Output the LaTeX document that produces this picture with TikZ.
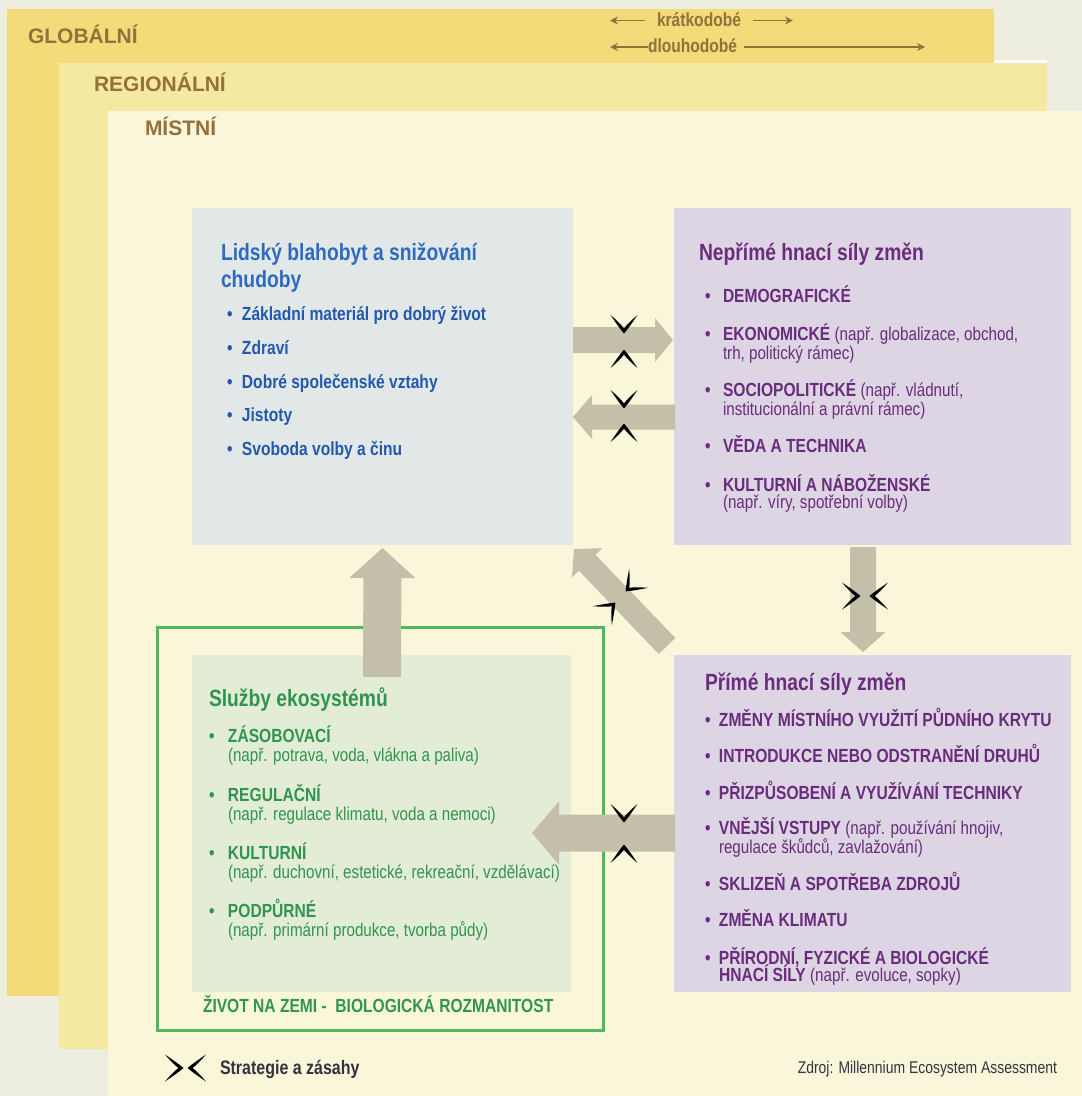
\documentclass[tikz,border=0pt]{standalone}
\usepackage{fontspec}
\setmainfont{Liberation Sans}
\newfontfamily\cf[FakeStretch=0.82]{Liberation Sans}
\usetikzlibrary{calc,arrows.meta}
\definecolor{bgc}{HTML}{EDEDE0}
\definecolor{globc}{HTML}{F2DB78}
\definecolor{regc}{HTML}{F5E8A1}
\definecolor{locc}{HTML}{FAF6DA}
\definecolor{blueboxc}{HTML}{E1E8E7}
\definecolor{purpboxc}{HTML}{DDD5E3}
\definecolor{greenboxc}{HTML}{E3ECD4}
\definecolor{framec}{HTML}{4DB85C}
\definecolor{arrowc}{HTML}{C3BFA8}
\definecolor{brownc}{HTML}{94703A}
\definecolor{bluet}{HTML}{2E6AC0}
\definecolor{bluei}{HTML}{2458AC}
\definecolor{purpc}{HTML}{6A2C7C}
\definecolor{greent}{HTML}{2F9550}
\definecolor{darkc}{HTML}{333340}
\newcommand{\bulx}[1]{\makebox[#1pt][l]{\textbullet}}
\newcommand{\regtxt}[1]{{\mdseries\fontsize{18.5}{21}\selectfont #1}}
% fat arrow: #1 from, #2 to, #3 shaft half width, #4 head half width, #5 head length
\newcommand{\fatarrow}[5]{%
  \coordinate (fatH) at ($(#2)!#5!(#1)$);
  \fill[arrowc] ($(#1)!#3!90:(#2)$) -- ($(fatH)!#3!90:(#2)$) -- ($(fatH)!#4!90:(#2)$) -- (#2)
     -- ($(fatH)!#4!-90:(#2)$) -- ($(fatH)!#3!-90:(#2)$) -- ($(#1)!#3!-90:(#2)$) -- cycle;}
\begin{document}
\begin{tikzpicture}[x=1pt,y=-1pt,
  boxn/.style={inner sep=0, outer sep=0},
  tx/.style={anchor=base west, inner sep=0, outer sep=0},
  layer/.style={tx, text=brownc, font=\bfseries\fontsize{21}{25}\selectfont},
  ttl/.style={tx, font=\cf\bfseries\fontsize{23.5}{27}\selectfont},
  itm/.style={tx, font=\cf\bfseries\fontsize{19}{22}\selectfont},
  sub/.style={tx, font=\cf\fontsize{18.5}{21}\selectfont},
  toparr/.style={draw=brownc, line width=1.8pt, -{Stealth[length=8pt,width=8pt]}},
  strat/.pic={\fill[black] (0.5,0) .. controls (-4,4) and (-10,8) .. (-18,13.5)
      .. controls (-12,6.5) and (-7.5,2) .. (-4.5,0)
      .. controls (-7.5,-2) and (-12,-6.5) .. (-18,-13.5)
      .. controls (-10,-8) and (-4,-4) .. (0.5,0) -- cycle;}
]
\useasboundingbox (0,0) rectangle (1082,1096);
% layers
\fill[bgc] (0,0) rectangle (1082,1096);
\fill[globc] (7,9) rectangle (994,996);
\fill[white] (994,60) rectangle (1047,63);
\fill[regc] (59,63) rectangle (1047,1049);
\fill[locc] (108,111) rectangle (1082,1096);
\node[layer] (lglob) at (28,43) {GLOBÁLNÍ};
\node[layer] (lreg) at (94,91) {REGIONÁLNÍ};
\node[layer] (lloc) at (145,135) {MÍSTNÍ};
% time scale
\node[tx, text=brownc, font=\cf\bfseries\fontsize{19}{22}\selectfont] (kratko) at (657,26.5) {krátkodobé};
\node[tx, text=brownc, font=\cf\bfseries\fontsize{19}{22}\selectfont] (dlouho) at (648,52) {dlouhodobé};
\coordinate (k1a) at ($(kratko.base west)+(-12,-6)$);
\coordinate (k1b) at ($(kratko.base west)+(-47,-6)$);
\coordinate (k2a) at ($(kratko.base east)+(12,-6)$);
\coordinate (k2b) at ($(kratko.base east)+(52,-6)$);
\coordinate (d1a) at ($(dlouho.base west)+(0,-5)$);
\coordinate (d1b) at ($(dlouho.base west)+(-38,-5)$);
\coordinate (d2a) at ($(dlouho.base east)+(7,-5)$);
\coordinate (d2b) at ($(dlouho.base east)+(188,-5)$);
\draw[toparr] (k1a) -- (k1b);
\draw[toparr] (k2a) -- (k2b);
\draw[toparr] (d1a) -- (d1b);
\draw[toparr] (d2a) -- (d2b);
% boxes
\node[boxn, fill=blueboxc, minimum width=381, minimum height=337] (wb) at (382.5,376.5) {};
\node[boxn, fill=purpboxc, minimum width=397, minimum height=337] (ind) at (872.5,376.5) {};
\node[boxn, fill=purpboxc, minimum width=397, minimum height=337] (dir) at (872.5,823.5) {};
\node[boxn, draw=framec, line width=3pt, minimum width=446, minimum height=403] (frame) at (380,828.5) {};
\node[boxn, fill=greenboxc, minimum width=379, minimum height=337] (eco) at (381.5,823.5) {};
% arrows
\coordinate (a1s) at ($(wb.east)+(0,-36.5)$);
\coordinate (a1e) at ($(ind.west)+(-1,-36.5)$);
\coordinate (a2s) at ($(ind.west)+(1,40.5)$);
\coordinate (a2e) at ($(wb.east)+(0,40.5)$);
\coordinate (a3s) at ($(eco.north)+(0.5,22)$);
\coordinate (a3e) at ($(wb.south)+(0,3)$);
\coordinate (a4s) at ($(dir.north west)+(-7,-9)$);
\coordinate (a4e) at ($(wb.south east)+(1,4)$);
\coordinate (a5s) at ($(ind.south)+(-9.5,2)$);
\coordinate (a5e) at ($(dir.north)+(-9.5,-3)$);
\coordinate (a6s) at ($(dir.west)+(1,9.5)$);
\coordinate (a6e) at ($(eco.east)+(-39,9.5)$);
\fatarrow{a1s}{a1e}{13pt}{22pt}{18pt}
\fatarrow{a2s}{a2e}{12.5pt}{22pt}{19pt}
\fatarrow{a3s}{a3e}{19pt}{33pt}{30pt}
\fatarrow{a4s}{a4e}{11.5pt}{21pt}{19pt}
\fatarrow{a5s}{a5e}{13pt}{22.5pt}{20pt}
\fatarrow{a6s}{a6e}{18.5pt}{31.5pt}{27pt}
% strategy markers
\pic[rotate=-90] at (624,333) {strat};
\pic[rotate=90] at (624,350) {strat};
\pic[rotate=-90] at (624,408) {strat};
\pic[rotate=90] at (624,424) {strat};
\pic[rotate=-90] at (624,822) {strat};
\pic[rotate=90] at (624,845) {strat};
\pic at (860,596) {strat};
\pic[rotate=180] at (870,596) {strat};
\pic[rotate=225] at (626,591) {strat};
\pic[rotate=45] at (615,603) {strat};
% blue box text
\node[ttl, text=bluet] (wbt1) at (221,260) {Lidský blahobyt a snižování};
\node[ttl, text=bluet] (wbt2) at (221,287) {chudoby};
\node[itm, text=bluei] (wb1) at (227,320.5) {\bulx{15}Základní materiál pro dobrý život};
\node[itm, text=bluei] (wb2) at (227,354) {\bulx{15}Zdraví};
\node[itm, text=bluei] (wb3) at (227,388.5) {\bulx{15}Dobré společenské vztahy};
\node[itm, text=bluei] (wb4) at (227,421.5) {\bulx{15}Jistoty};
\node[itm, text=bluei] (wb5) at (227,455) {\bulx{15}Svoboda volby a činu};
% indirect drivers
\node[ttl, text=purpc] (indt) at (699,260) {Nepřímé hnací síly změn};
\node[itm, text=purpc] (ind1) at (705,302.5) {\bulx{18}DEMOGRAFICKÉ};
\node[itm, text=purpc] (ind2) at (705,340) {\bulx{18}EKONOMICKÉ \regtxt{(např. globalizace, obchod,}};
\node[sub, text=purpc] (ind2b) at (723,359.5) {trh, politický rámec)};
\node[itm, text=purpc] (ind3) at (705,396) {\bulx{18}SOCIOPOLITICKÉ \regtxt{(např. vládnutí,}};
\node[sub, text=purpc] (ind3b) at (723,415) {institucionální a právní rámec)};
\node[itm, text=purpc] (ind4) at (705,452) {\bulx{18}VĚDA A TECHNIKA};
\node[itm, text=purpc] (ind5) at (705,491.5) {\bulx{18}KULTURNÍ A NÁBOŽENSKÉ};
\node[sub, text=purpc] (ind5b) at (723,508.5) {(např. víry, spotřební volby)};
% direct drivers
\node[ttl, text=purpc] (dirt) at (705,690) {Přímé hnací síly změn};
\node[itm, text=purpc] (dir1) at (705,726) {\bulx{14}ZMĚNY MÍSTNÍHO VYUŽITÍ PŮDNÍHO KRYTU};
\node[itm, text=purpc] (dir2) at (705,762.5) {\bulx{14}INTRODUKCE NEBO ODSTRANĚNÍ DRUHŮ};
\node[itm, text=purpc] (dir3) at (705,799) {\bulx{14}PŘIZPŮSOBENÍ A VYUŽÍVÁNÍ TECHNIKY};
\node[itm, text=purpc] (dir4) at (705,834) {\bulx{14}VNĚJŠÍ VSTUPY \regtxt{(např. používání hnojiv,}};
\node[sub, text=purpc] (dir4b) at (719,853) {regulace škůdců, zavlažování)};
\node[itm, text=purpc] (dir5) at (705,890) {\bulx{14}SKLIZEŇ A SPOTŘEBA ZDROJŮ};
\node[itm, text=purpc] (dir6) at (705,926.5) {\bulx{14}ZMĚNA KLIMATU};
\node[itm, text=purpc] (dir7) at (705,964) {\bulx{14}PŘÍRODNÍ, FYZICKÉ A BIOLOGICKÉ};
\node[itm, text=purpc] (dir7b) at (719,981.5) {HNACÍ SÍLY \regtxt{(např. evoluce, sopky)}};
% ecosystem services
\node[ttl, text=greent] (ecot) at (209,706) {Služby ekosystémů};
\node[itm, text=greent] (eco1) at (209,742.5) {\bulx{19}ZÁSOBOVACÍ};
\node[sub, text=greent] (eco1b) at (228,761.5) {(např. potrava, voda, vlákna a paliva)};
\node[itm, text=greent] (eco2) at (209,801) {\bulx{19}REGULAČNÍ};
\node[sub, text=greent] (eco2b) at (228,820) {(např. regulace klimatu, voda a nemoci)};
\node[itm, text=greent] (eco3) at (209,859) {\bulx{19}KULTURNÍ};
\node[sub, text=greent] (eco3b) at (228,878) {(např. duchovní, estetické, rekreační, vzdělávací)};
\node[itm, text=greent] (eco4) at (209,917.5) {\bulx{19}PODPŮRNÉ};
\node[sub, text=greent] (eco4b) at (228,936.5) {(např. primární produkce, tvorba půdy)};
\node[itm, text=greent] (ecof) at (203,1012.5) {ŽIVOT NA ZEMI - \ BIOLOGICKÁ ROZMANITOST};
% legend
\pic at (183,1068) {strat};
\pic[rotate=180] at (188,1068) {strat};
\node[itm, text=darkc, font=\cf\bfseries\fontsize{19.5}{22}\selectfont] (leg) at (220,1074) {Strategie a zásahy};
\node[sub, text=darkc, anchor=base east, font=\cf\fontsize{17}{20}\selectfont] (src) at (1057,1073) {Zdroj: Millennium Ecosystem Assessment};
\end{tikzpicture}
\end{document}
